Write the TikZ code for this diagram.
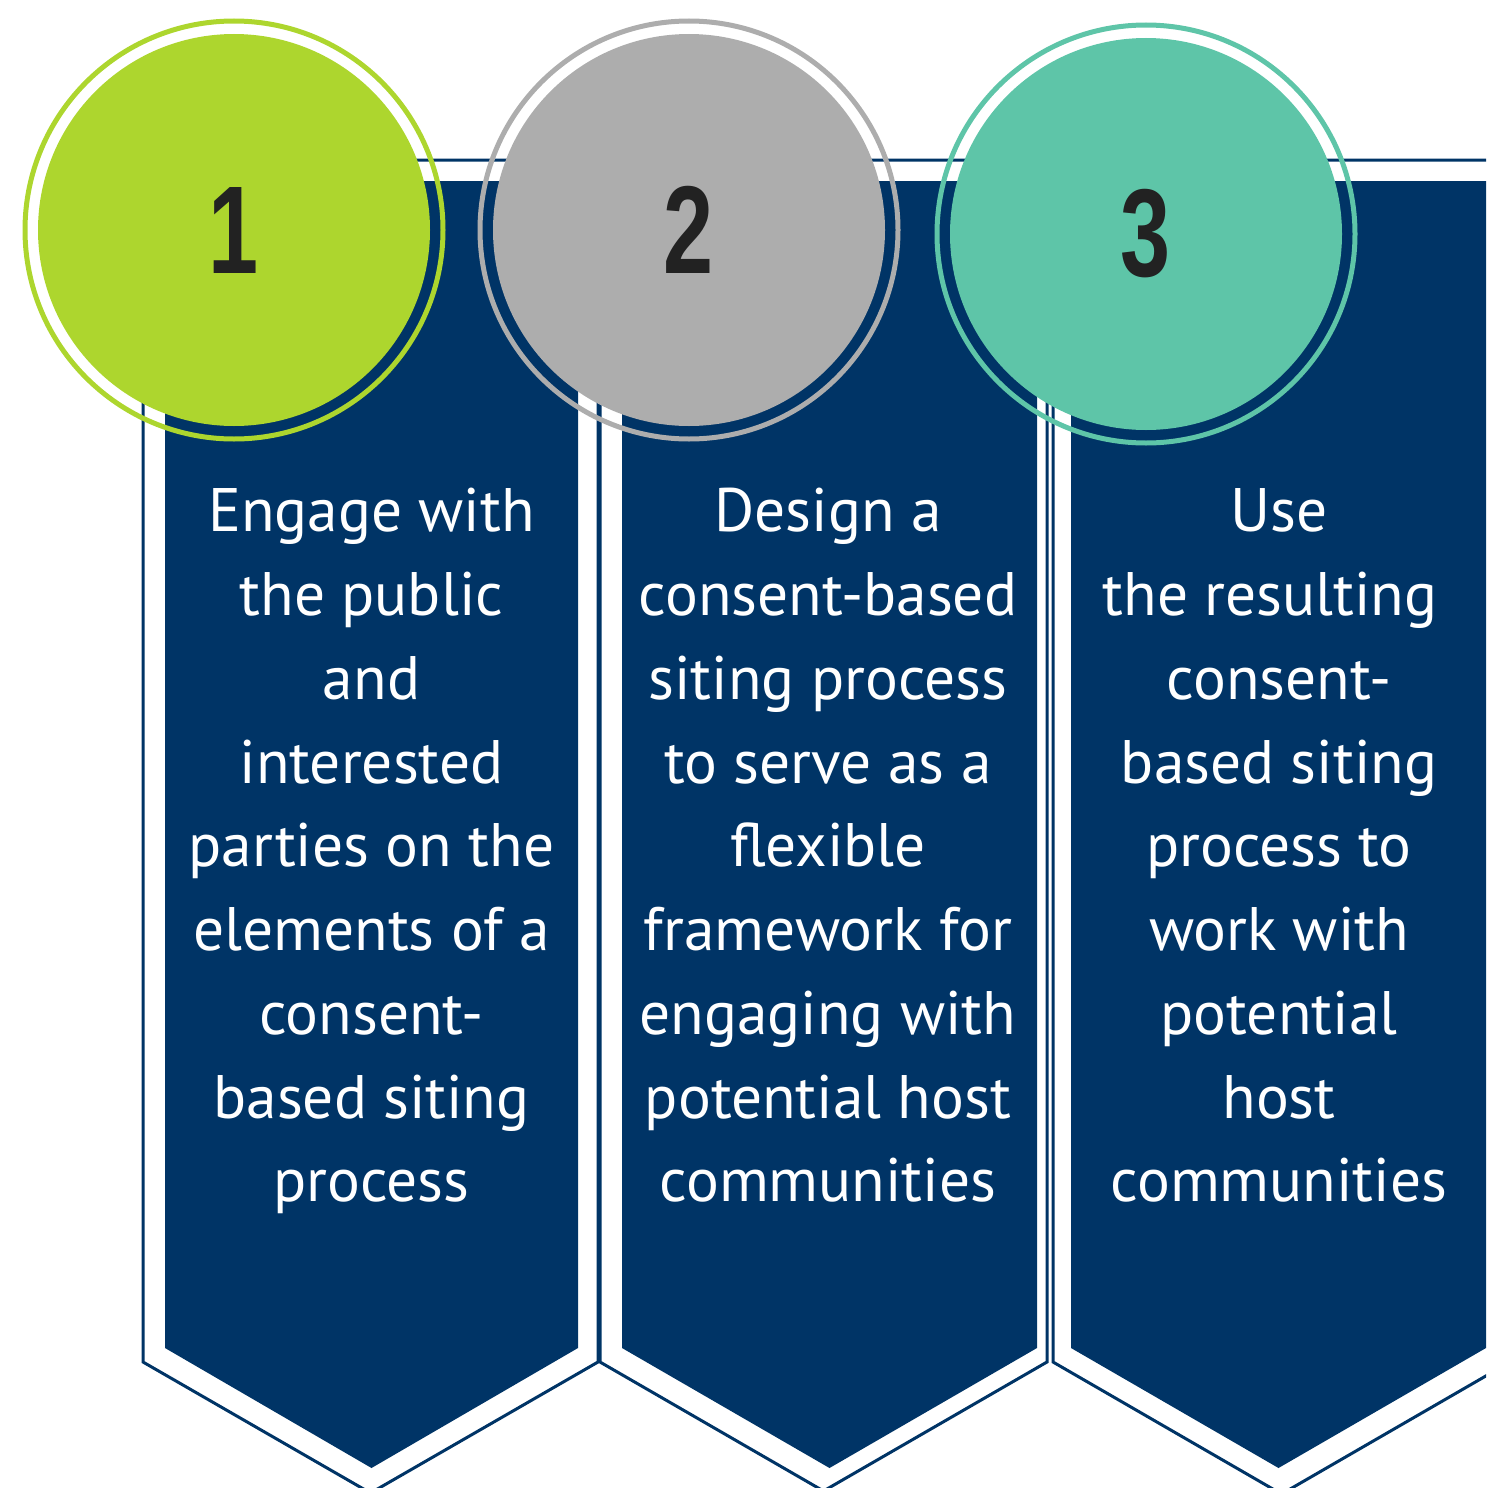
\documentclass[tikz,border=0pt]{standalone}
\usepackage{fontspec}
\setmainfont{PT Sans}
\newfontfamily\numfont[FakeStretch=0.72]{Liberation Sans}

\definecolor{navy}{HTML}{003466}
\definecolor{stepgreen}{HTML}{ADD62E}
\definecolor{stepgray}{HTML}{ADADAD}
\definecolor{stepteal}{HTML}{5EC5A8}
\definecolor{numgray}{HTML}{222222}

\begin{document}
\begin{tikzpicture}[x=1pt, y=-1pt,
    bannerline/.style={draw=navy, line width=3pt, line join=miter},
    banner/.style={fill=navy},
    ring/.style={circle, draw=#1, line width=5pt, minimum size=418pt, inner sep=0pt},
    disk/.style={circle, fill=#1, minimum size=392pt, inner sep=0pt, text=numgray,
        font=\numfont\bfseries\fontsize{125}{125}\selectfont},
    steptext/.style={anchor=north, align=center, inner sep=0pt, text=white,
        font=\fontsize{61.4}{83.75}\selectfont}]
    \useasboundingbox (0,0) rectangle (1486,1488);
    \clip (0,0) rectangle (1486,1488);

    % outlines of the three banners
    \draw[bannerline] (143,160) -- (598,160) -- (598,1362) -- (370.5,1493) -- (143,1362) -- cycle;
    \draw[bannerline] (600,160) -- (1047,160) -- (1047,1362) -- (823.5,1491) -- (600,1362) -- cycle;
    \draw[bannerline] (1053,160) -- (1510,160) -- (1510,1362) -- (1281.5,1494) -- (1053,1362) -- cycle;

    % filled banners
    \fill[banner] (165,181) -- (578,181) -- (578,1348) -- (371.5,1468) -- (165,1348) -- cycle;
    \fill[banner] (622,181) -- (1037,181) -- (1037,1348) -- (829.5,1468) -- (622,1348) -- cycle;
    \fill[banner] (1071,181) -- (1486,181) -- (1486,1348) -- (1278.5,1468) -- (1071,1348) -- cycle;

    % numbered circles
    \foreach \i/\x/\y/\c in {1/234/230/stepgreen, 2/689/230/stepgray, 3/1146/234/stepteal} {
        \node[ring=\c] (r\i) at (\x,\y) {};
        \node[disk=\c] (c\i) at (\x,\y) {\i};
    }

    \node[steptext] (t1) at (371.5,473) {\strut Engage with\\the public\\and\\interested\\parties on the\\elements of a\\consent-\\based siting\\process};
    \node[steptext] (t2) at (828,473) {\strut Design a\\consent-based\\siting process\\to serve as a\\flexible\\framework for\\engaging with\\potential host\\communities};
    \node[steptext] (t3) at (1279,473) {\strut Use\\the resulting\kern18pt\\consent-\\based siting\\process to\\work with\\potential\\host\\communities};
\end{tikzpicture}
\end{document}
